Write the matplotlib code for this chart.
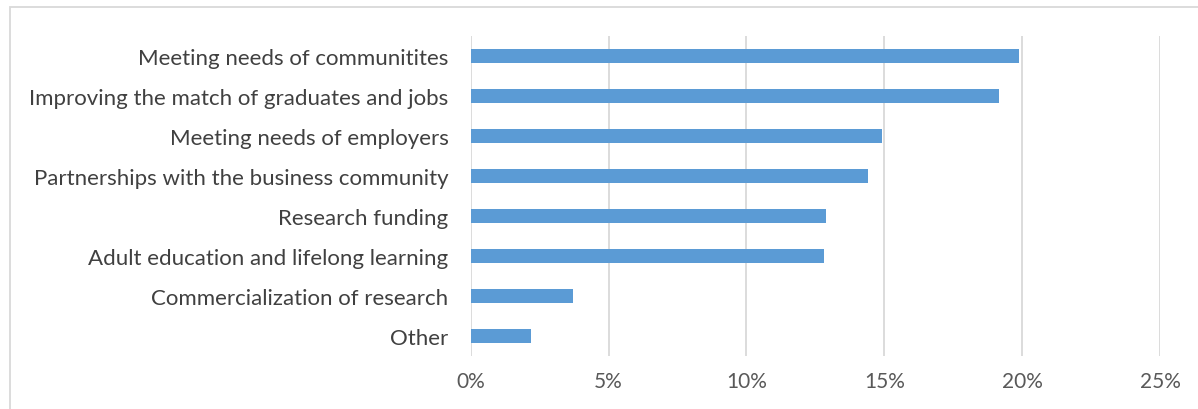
import matplotlib.pyplot as plt
from matplotlib.patches import Rectangle
import numpy as np

plt.rcParams['font.family'] = ['Lato', 'DejaVu Sans']

categories = ['Meeting needs of communitites',
              'Improving the match of graduates and jobs',
              'Meeting needs of employers',
              'Partnerships with the business community',
              'Research funding',
              'Adult education and lifelong learning',
              'Commercialization of research',
              'Other']
values = [19.9, 19.15, 14.9, 14.4, 12.9, 12.8, 3.7, 2.2]
xticks = [0, 5, 10, 15, 20, 25]
xtick_labels = ['0%', '5%', '10%', '15%', '20%', '25%']

W, H = 1198, 410
fig = plt.figure(figsize=(W / 100, H / 100), dpi=100)
ax = fig.add_axes([470.7 / W, (H - 357) / H, (1160 - 470.7) / W, 320 / H])

y = np.arange(len(categories))
ax.barh(y, values, height=0.37, color='#5B9BD5', zorder=3)
ax.set_ylim(len(categories) - 0.5, -0.5)
ax.set_xlim(0, 25)

ax.set_yticks(y)
ax.set_yticklabels(categories, fontsize=16, color='#404040')
ax.set_xticks(xticks)
ax.set_xticklabels(xtick_labels, fontsize=15, color='#595959')
ax.tick_params(axis='both', length=0)
ax.tick_params(axis='y', pad=16)
ax.tick_params(axis='x', pad=11)

ax.grid(axis='x', color='#D9D9D9', linewidth=1.3, zorder=0)
for s in ax.spines.values():
    s.set_visible(False)

fig.patches.append(Rectangle((10 / W, -0.1), 1.2, (H - 8) / H + 0.1,
                             transform=fig.transFigure, fill=False,
                             edgecolor='#D9D9D9', linewidth=1.3))

fig.savefig('out.png', dpi=100)
